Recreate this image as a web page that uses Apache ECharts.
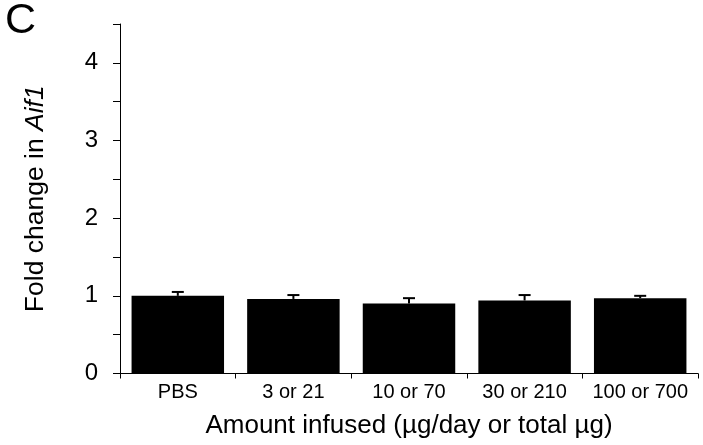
<!DOCTYPE html>
<html><head><meta charset="utf-8">
<script src="https://cdn.jsdelivr.net/npm/echarts@6/dist/echarts.min.js"></script>
<style>html,body{margin:0;padding:0;background:#fff}#c{width:703px;height:445px}</style>
</head><body><div id="c"></div>
<script>
var categories = ['PBS', '3 or 21', '10 or 70', '30 or 210', '100 or 700'];
var means = [1.00, 0.96, 0.90, 0.94, 0.97];
var errors = [0.05, 0.05, 0.07, 0.07, 0.03];
var yTicks = [0, 1, 2, 3, 4];

var chart = echarts.init(document.getElementById('c'), null, {renderer: 'canvas'});
var font = 'Liberation Sans, Arial, Helvetica, sans-serif';
chart.setOption({
  animation: false,
  backgroundColor: '#fff',
  grid: {left: 120, right: 5, top: 24, bottom: 71.5, containLabel: false},
  graphic: [{type: 'text', left: 5, top: 0, style: {text: 'C', font: '43px ' + font, fill: '#000'}}],
  xAxis: {
    type: 'category', data: categories,
    axisLine: {lineStyle: {color: '#000', width: 1}},
    axisTick: {show: true, length: 5, lineStyle: {color: '#000'}},
    axisLabel: {color: '#000', fontSize: 20, fontFamily: font, margin: 9, interval: 0},
    name: 'Amount infused (µg/day or total µg)', nameLocation: 'middle', nameGap: 39,
    nameTextStyle: {color: '#000', fontSize: 26, fontFamily: font}
  },
  yAxis: {
    type: 'value', min: 0, max: 4.5, interval: 0.5,
    axisLine: {show: true, lineStyle: {color: '#000', width: 1}},
    axisTick: {show: true, length: 7, lineStyle: {color: '#000'}},
    splitLine: {show: false},
    axisLabel: {color: '#000', fontSize: 24, fontFamily: font, margin: 22,
      formatter: function (v) { return yTicks.indexOf(v) >= 0 ? String(v) : ''; }},
    name: 'Fold change in {i|Aif1}', nameLocation: 'middle', nameGap: 71,
    nameTextStyle: {color: '#000', fontSize: 26.5, fontFamily: font,
      rich: {i: {fontStyle: 'italic', fontSize: 26.5, fontFamily: font, color: '#000'}}}
  },
  series: [{
    type: 'bar', data: means, barCategoryGap: '20%',
    itemStyle: {color: '#000'}, z: 2
  }, {
    type: 'custom', z: 3,
    data: means.map(function (m, i) { return [i, m, m + errors[i]]; }),
    renderItem: function (params, api) {
      var p0 = api.coord([api.value(0), api.value(1)]);
      var p1 = api.coord([api.value(0), api.value(2)]);
      var hw = 6;
      return {type: 'group', children: [
        {type: 'line', shape: {x1: p0[0], y1: p0[1], x2: p1[0], y2: p1[1]}, style: {stroke: '#000', lineWidth: 2}},
        {type: 'line', shape: {x1: p1[0] - hw, y1: p1[1], x2: p1[0] + hw, y2: p1[1]}, style: {stroke: '#000', lineWidth: 2}}
      ]};
    }
  }]
});
</script></body></html>
